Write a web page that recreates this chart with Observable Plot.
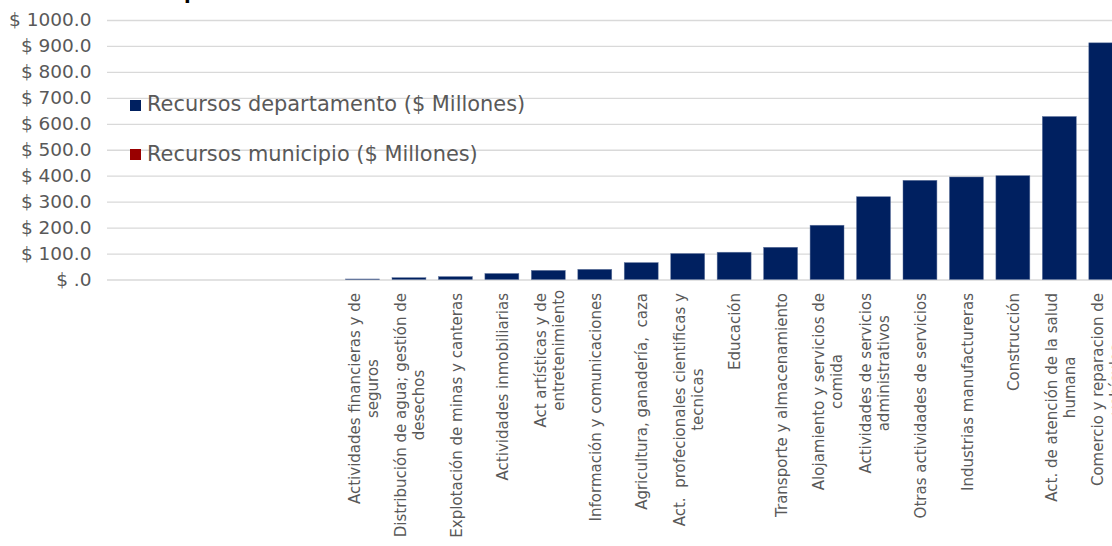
<!DOCTYPE html>
<html><head><meta charset="utf-8">
<script src="https://cdn.jsdelivr.net/npm/d3@7"></script>
<script src="https://cdn.jsdelivr.net/npm/@observablehq/plot@0.6"></script>
<style>
html,body{margin:0;padding:0;background:#fff;overflow:hidden;width:1112px;height:546px;}
#wrap{position:relative;width:1112px;height:546px;overflow:hidden;font-family:"DejaVu Sans",Verdana,sans-serif;}
#title{position:absolute;top:-19.5px;right:659px;white-space:nowrap;font-weight:bold;font-size:19.5px;line-height:normal;color:#000;}
.leg{position:absolute;left:130px;display:flex;align-items:flex-start;font-size:20.9px;line-height:normal;color:#595959;white-space:nowrap;}
.sw{width:11px;height:11px;margin-right:6px;margin-top:7.7px;flex:none;}
#chart{position:absolute;left:0;top:0;width:1129px;}
</style></head><body><div id="wrap"><div id="title">Distribución de recursos por actividad económica</div><div id="chart"></div></div>
<script>
const categorias = ["", "", "", "", "",
  "Actividades financieras y de\nseguros",
  "Distribución de agua; gestión de\ndesechos",
  "Explotación de minas y canteras",
  "Actividades inmobiliarias",
  "Act artísticas y de\nentretenimiento",
  "Información y comunicaciones",
  "Agricultura, ganadería,  caza",
  "Act.  profecionales cientificas y\ntecnicas",
  "Educación",
  "Transporte y almacenamiento",
  "Alojamiento y servicios de\ncomida",
  "Actividades de servicios\nadministrativos",
  "Otras actividades de servicios",
  "Industrias manufactureras",
  "Construcción",
  "Act. de atención de la salud\nhumana",
  "Comercio y reparacion de\nvehículos"];
const recursosDepartamento = [0, 0, 0, 0, 0, 2, 7, 11, 23, 35, 39, 65, 100, 105, 124, 209, 319, 382, 395, 400, 628, 912];
const recursosMunicipio = [0, 0, 0, 0, 0, 0, 0, 0, 0, 0, 0, 0, 0, 0, 0, 0, 0, 0, 0, 0, 0, 0];
const series = ["Recursos departamento ($ Millones)", "Recursos municipio ($ Millones)"];
const colores = ["#002060", "#990000"];
const ticksY = [0, 100, 200, 300, 400, 500, 600, 700, 800, 900, 1000];

const datos = [];
categorias.forEach((c, i) => {
  datos.push({i, serie: series[0], valor: recursosDepartamento[i]});
  datos.push({i, serie: series[1], valor: recursosMunicipio[i]});
});

const fmtY = v => v === 0 ? "$ .0" : "$ " + v.toFixed(1);

const plot = Plot.plot({
  width: 1129, height: 546,
  marginLeft: 107, marginRight: 0, marginTop: 20, marginBottom: 266.5,
  style: {fontFamily: '"DejaVu Sans", Verdana, sans-serif', color: "#595959", background: "transparent"},
  x: {type: "band", domain: d3.range(categorias.length), paddingInner: 0.27, paddingOuter: 0.135, round: false, axis: null},
  y: {domain: [0, 1000], axis: null},
  color: {domain: series, range: colores},
  marks: [
    Plot.ruleY(ticksY, {stroke: "#d9d9d9", strokeWidth: 1.3}),
    Plot.barY(datos, Plot.stackY({x: "i", y: "valor", fill: "serie", stroke: "#5a6f9a", strokeWidth: 0.6, strokeOpacity: 0.8})),
    Plot.axisY(ticksY, {tickSize: 0, tickPadding: 16, tickFormat: fmtY, fontSize: 18.5, label: null}),
    Plot.axisX(d3.range(categorias.length), {tickSize: 0, tickPadding: 13, tickRotate: -90, tickFormat: i => categorias[i], fontSize: 15, lineHeight: 1.2, label: null})
  ]
});
plot.style.maxWidth = "none";
plot.style.width = "1129px";
plot.style.height = "546px";
document.getElementById("chart").appendChild(plot);

// centre second lines of wrapped labels relative to the first line
plot.querySelectorAll("text").forEach(t => {
  const sp = t.querySelectorAll("tspan");
  if (sp.length === 2) {
    const l1 = sp[0].getComputedTextLength(), l2 = sp[1].getComputedTextLength();
    sp[1].setAttribute("x", (-(l1 - l2) / 2 + 10).toFixed(1));
  }
});

// legend
const wrap = document.getElementById("wrap");
[ [series[0], colores[0], 92.3], [series[1], colores[1], 141.8] ].forEach(([s, c, top]) => {
  const d = document.createElement("div");
  d.className = "leg"; d.style.top = top + "px";
  d.innerHTML = `<span class="sw" style="background:${c}"></span><span>${s}</span>`;
  wrap.appendChild(d);
});
</script></body></html>
